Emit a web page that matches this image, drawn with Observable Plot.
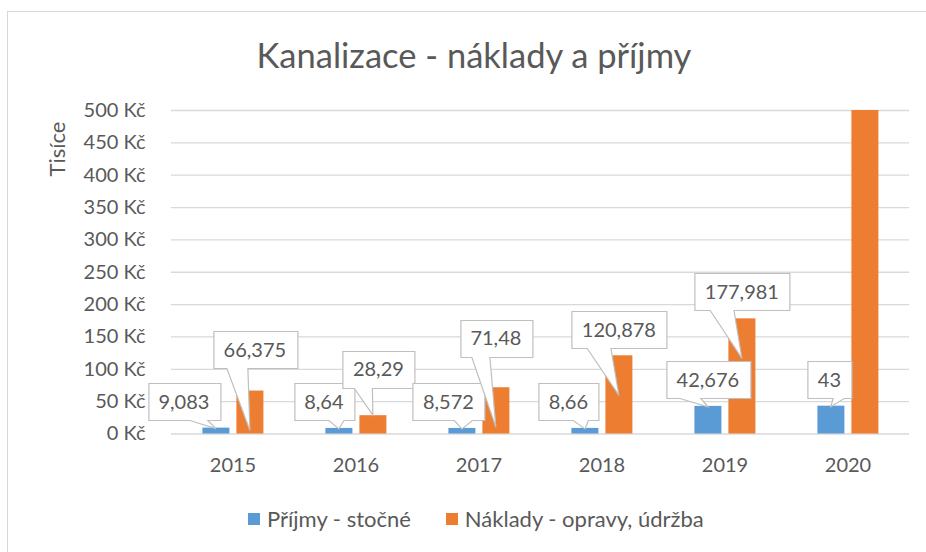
<!DOCTYPE html>
<html><head><meta charset="utf-8">
<script src="https://cdn.jsdelivr.net/npm/d3@7"></script>
<script src="https://cdn.jsdelivr.net/npm/@observablehq/plot@0.6"></script>
<style>
body{margin:0;background:#fff;}
#wrap{position:relative;width:926px;height:552px;overflow:hidden;background:#fff;font-family:Lato, sans-serif;color:#595959;}
#frame{position:absolute;left:7px;top:11px;width:2000px;height:2000px;border-left:1px solid #d9d9d9;border-top:1px solid #d9d9d9;}
#title{position:absolute;left:11px;top:33.5px;width:926px;text-align:center;font-size:34.5px;line-height:42px;white-space:nowrap;}
#ytitle{position:absolute;left:57px;top:149px;transform:translate(-50%,-50%) rotate(-90deg);font-size:22px;line-height:26px;white-space:nowrap;}
#chart{position:absolute;left:0;top:90px;}
#legend{position:absolute;left:248px;top:504px;display:flex;align-items:center;font-size:22px;line-height:30px;white-space:nowrap;}
.item{display:flex;align-items:center;margin-right:35px;}
.sw{width:12px;height:12px;display:inline-block;margin-right:7px;}
</style></head><body>
<div id="wrap"><div id="frame"></div><div id="title">Kanalizace - náklady a příjmy</div><div id="ytitle">Tisíce</div><div id="chart"></div><div id="legend"></div></div>
<script>
// ---- data ----
const years = ["2015", "2016", "2017", "2018", "2019", "2020"];
const seriesNames = ["Příjmy - stočné", "Náklady - opravy, údržba"];
const seriesColors = ["#5B9BD5", "#ED7D31"];
const prijmy = [9.083, 8.64, 8.572, 8.66, 42.676, 43];
const naklady = [66.375, 28.29, 71.48, 120.878, 177.981, 500];
const nakladyLabelled = [true, true, true, true, true, false];
const yTicks = [0, 50, 100, 150, 200, 250, 300, 350, 400, 450, 500];

// ---- callout placement (layout only, pixels relative to bar top) ----
const prijmyCallout = {dx: [-32, -15, -13.5, -16.5, 0, -1.5], dy: [-26, -26, -26, -26, -26, -26], tip: [1, 1, 1, 1, 1, 1]};
const nakladyCallout = {dx: [5, 5.5, 0, 0, 0], dy: [-41, -46, -49, -25.5, -26.5], tip: [40, 0, 40, 40, 40]};

const fmt = v => String(v).replace(".", ",");

const rows = [];
years.forEach((y, i) => {
  rows.push({year: y, series: seriesNames[0], value: prijmy[i]});
  rows.push({year: y, series: seriesNames[1], value: naklady[i]});
});

const labelRows = [];
years.forEach((y, i) => {
  labelRows.push({year: y, series: seriesNames[0], value: prijmy[i], text: fmt(prijmy[i]),
    dx: prijmyCallout.dx[i], dy: prijmyCallout.dy[i], tip: prijmyCallout.tip[i]});
  if (nakladyLabelled[i]) labelRows.push({year: y, series: seriesNames[1], value: naklady[i], text: fmt(naklady[i]),
    dx: nakladyCallout.dx[i], dy: nakladyCallout.dy[i], tip: nakladyCallout.tip[i]});
});

const measureCtx = document.createElement("canvas").getContext("2d");
measureCtx.font = "20px Lato";

function calloutRender(index, scales, values) {
  let bw = 0;
  if (scales.x && typeof scales.x.bandwidth === "function") bw = scales.x.bandwidth();
  else if (scales.scales && scales.scales.x && scales.scales.x.bandwidth) bw = scales.scales.x.bandwidth;
  const g = d3.create("svg:g");
  for (const i of index) {
    const r = labelRows[i];
    const bx = values.x[i] + bw / 2, by = values.y[i];
    const tw = measureCtx.measureText(r.text).width;
    const w = Math.round(tw + 21), h = 37;
    const cx = bx + r.dx, cy = by + r.dy;
    const x0 = Math.round(cx - w / 2) + 0.5, x1 = x0 + w;
    const y0 = Math.round(cy - h / 2) + 0.5, y1 = y0 + h;
    const tx = bx, ty = by + r.tip;
    const s = tx > cx + 1 ? 1 : -1;
    const ba = cx + s * w / 12, bb = cx + s * w / 3;
    const bR = Math.max(ba, bb), bL = Math.min(ba, bb);
    g.append("path")
      .attr("d", `M${x0},${y0}H${x1}V${y1}H${bR}L${tx},${ty}L${bL},${y1}H${x0}Z`)
      .attr("fill", "#fff").attr("stroke", "#bfbfbf").attr("stroke-width", 1.2);
    g.append("text")
      .attr("x", cx).attr("y", cy).attr("dy", "0.36em")
      .attr("text-anchor", "middle").attr("fill", "#595959")
      .attr("font-size", 20).text(r.text);
  }
  return g.node();
}

const chart = Plot.plot({
  width: 926,
  height: 392,
  marginTop: 20,
  marginBottom: 48.5,
  marginLeft: 168.6,
  marginRight: 15.3,
  style: {fontFamily: "Lato, sans-serif", fontSize: "20px", color: "#595959", background: "transparent"},
  fx: {domain: years, padding: 0, label: null, tickSize: 0, tickPadding: 24, axis: "bottom"},
  x: {domain: seriesNames, paddingInner: 0.2, paddingOuter: 0.867, axis: null},
  y: {domain: [0, 500], ticks: yTicks, tickFormat: d => `${d} Kč`, tickSize: 0, tickPadding: 26, label: null},
  color: {domain: seriesNames, range: seriesColors},
  marks: [
    Plot.ruleY(yTicks, {stroke: "#d9d9d9", strokeWidth: 1.3}),
    Plot.barY(rows, {fx: "year", x: "series", y: "value", fill: "series"}),
    Plot.text(labelRows, {fx: "year", x: "series", y: "value", text: "text", render: calloutRender})
  ]
});
document.getElementById("chart").appendChild(chart);

const legend = document.getElementById("legend");
seriesNames.forEach((n, i) => {
  const it = document.createElement("div");
  it.className = "item";
  const sw = document.createElement("span");
  sw.className = "sw";
  sw.style.background = seriesColors[i];
  it.appendChild(sw);
  it.appendChild(document.createTextNode(n));
  legend.appendChild(it);
});
</script>
</body></html>
